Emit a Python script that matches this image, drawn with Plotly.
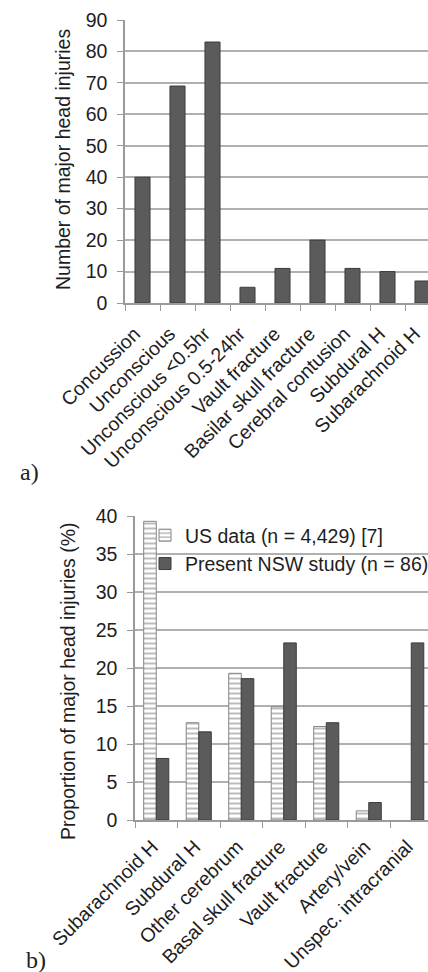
import plotly.graph_objects as go

# Panel a data
cats_a = ["Concussion", "Unconscious", "Unconscious <0.5hr", "Unconscious 0.5-24hr",
          "Vault fracture", "Basilar skull fracture", "Cerebral contusion",
          "Subdural H", "Subarachnoid H"]
vals_a = [40, 69, 83, 5, 11, 20, 11, 10, 7]

# Panel b data
cats_b = ["Subarachnoid H", "Subdural H", "Other cerebrum", "Basal skull fracture",
          "Vault fracture", "Artery/vein", "Unspec. intracranial"]
us_vals = [39.3, 12.8, 19.3, 14.9, 12.3, 1.2, None]
nsw_vals = [8.1, 11.6, 18.6, 23.3, 12.8, 2.3, 23.3]

FONT = "Liberation Sans, Arial, sans-serif"
FS = 19.5
W, H = 428, 972
TXT = "#1e1e1e"

fig = go.Figure()

fig.add_trace(go.Bar(
    x=cats_a, y=vals_a, width=0.43, xaxis="x", yaxis="y",
    marker=dict(color="#5b5b5b", line=dict(color="#3c3c3c", width=1)),
    showlegend=False,
))

fig.add_trace(go.Bar(
    x=cats_b, y=us_vals, xaxis="x2", yaxis="y2", name="US data (n = 4,429) [7]",
    marker=dict(color="white", line=dict(color="#858585", width=1),
                pattern=dict(shape="-", fgcolor="#7a7a7a", bgcolor="white",
                             size=5, solidity=0.4)),
))
fig.add_trace(go.Bar(
    x=cats_b, y=nsw_vals, xaxis="x2", yaxis="y2", name="Present NSW study (n = 86)",
    marker=dict(color="#5b5b5b", line=dict(color="#3c3c3c", width=1)),
))

def px_y(p):
    return 1 - p / H

common_x = dict(type="category", tickangle=-45, ticks="outside", tickson="boundaries",
                ticklen=6, tickcolor="#9a9a9a", showline=True, linecolor="#9a9a9a",
                linewidth=1.5, showgrid=False, automargin=False,
                tickfont=dict(family=FONT, size=FS, color=TXT))
common_y = dict(ticks="outside", ticklen=6, tickcolor="#9a9a9a", showline=True,
                linecolor="#9a9a9a", linewidth=1.5, showgrid=True, gridcolor="#b0b0b0",
                gridwidth=1.5, zeroline=False, ticklabelstandoff=6, automargin=False,
                tickfont=dict(family=FONT, size=FS, color=TXT))

fig.update_layout(
    width=W, height=H, margin=dict(l=0, r=0, t=0, b=0, autoexpand=False),
    paper_bgcolor="white", plot_bgcolor="white",
    barmode="group", bargap=0.41, bargroupgap=0,
    xaxis=dict(domain=[125 / W, 1], anchor="y",
               range=[-0.5, -0.5 + (W - 125) / 35.0],
               ticklabelstandoff=10, ticklabelshift=-8, **common_x),
    yaxis=dict(domain=[px_y(303), px_y(20)], anchor="x", range=[0, 90],
               dtick=10, **common_y),
    xaxis2=dict(domain=[135 / W, 1], anchor="y2",
                range=[-0.5, -0.5 + (W - 135) / 42.5],
                ticklabelstandoff=6, ticklabelshift=-4, **common_x),
    yaxis2=dict(domain=[px_y(820), px_y(516)], anchor="x2", range=[0, 40],
                dtick=5, **common_y),
    legend=dict(x=145 / W, y=px_y(516), xanchor="left", yanchor="top",
                bgcolor="rgba(0,0,0,0)", itemwidth=30, tracegroupgap=0,
                font=dict(family=FONT, size=FS, color=TXT)),
    annotations=[
        dict(text="Number of major head injuries", x=63 / W, y=px_y(160),
             xref="paper", yref="paper", textangle=-90, showarrow=False,
             xanchor="center", yanchor="middle",
             font=dict(family=FONT, size=FS, color=TXT)),
        dict(text="Proportion of major head injuries (%)", x=68 / W, y=px_y(681),
             xref="paper", yref="paper", textangle=-90, showarrow=False,
             xanchor="center", yanchor="middle",
             font=dict(family=FONT, size=FS, color=TXT)),
        dict(text="a)", x=30 / W, y=px_y(472), xref="paper", yref="paper",
             showarrow=False, xanchor="center", yanchor="middle",
             font=dict(family="Liberation Serif, Times New Roman, serif", size=24,
                       color="#222222")),
        dict(text="b)", x=36 / W, y=px_y(960), xref="paper", yref="paper",
             showarrow=False, xanchor="center", yanchor="middle",
             font=dict(family="Liberation Serif, Times New Roman, serif", size=24,
                       color="#222222")),
    ],
)

fig.write_html("out.html")
